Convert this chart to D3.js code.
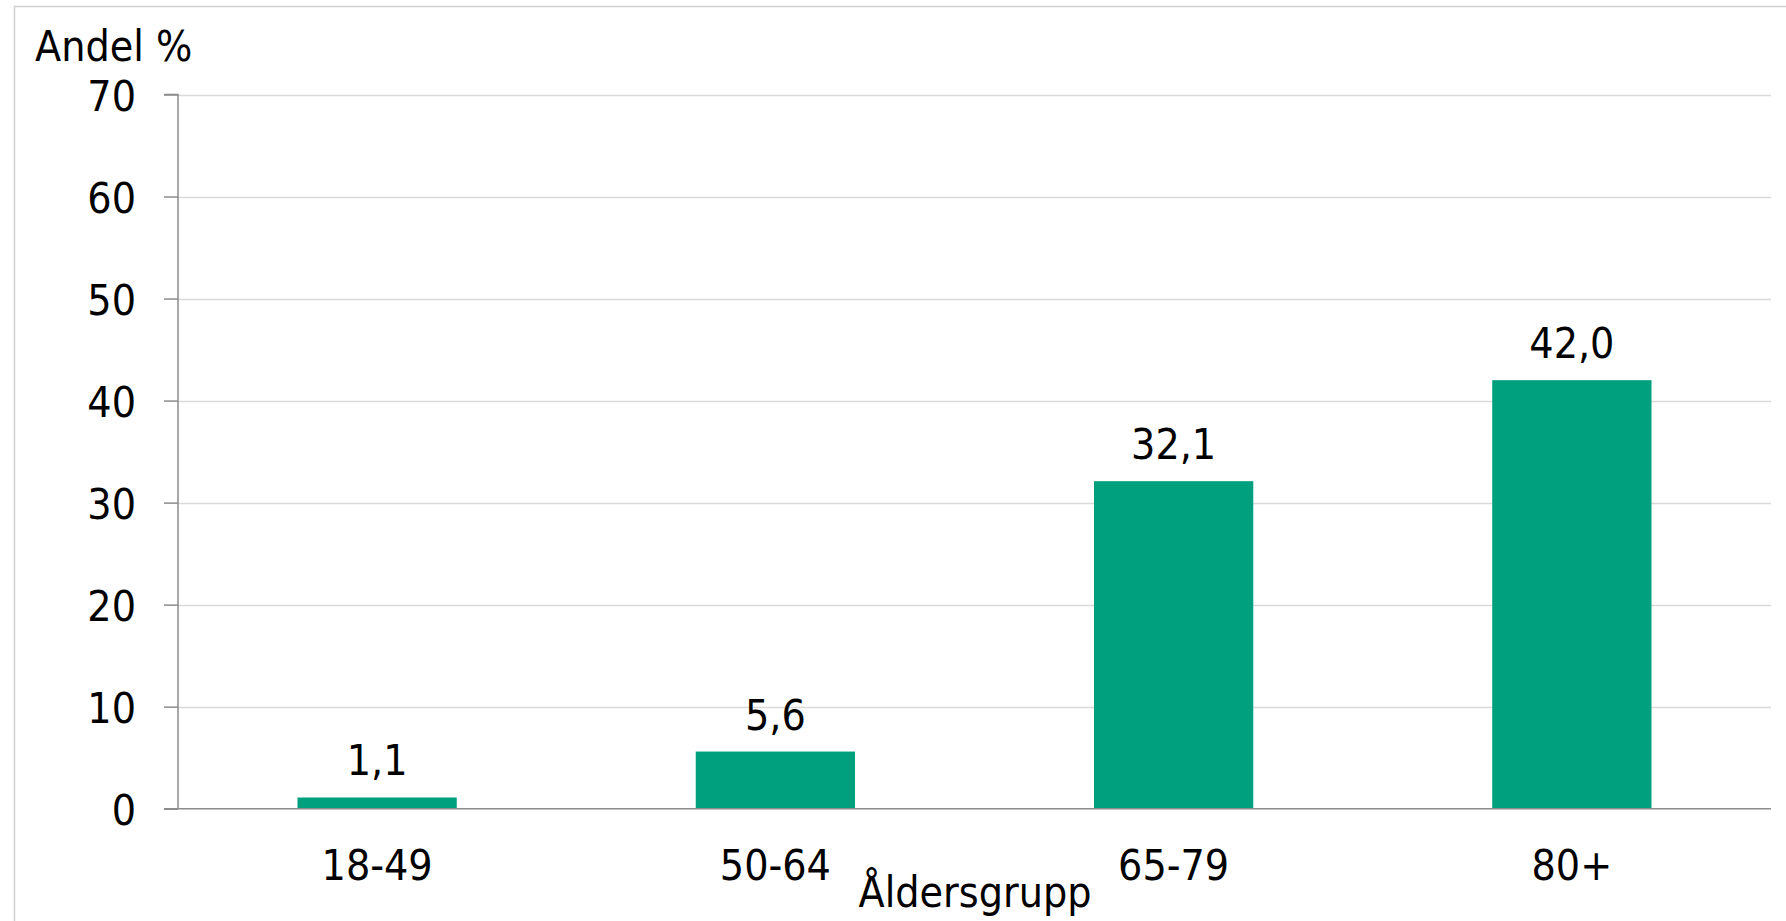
<!DOCTYPE html>
<html><head><meta charset="utf-8">
<script src="https://cdn.jsdelivr.net/npm/d3@7"></script>
<style>body{margin:0;background:#fff}svg{display:block}text{font-family:"DejaVu Sans Condensed","DejaVu Sans",sans-serif;fill:#000}</style>
</head><body>
<script>
const categories = ["18-49","50-64","65-79","80+"];
const values = [1.1, 5.6, 32.1, 42.0];
const yTicks = [0,10,20,30,40,50,60,70];
const yTitle = "Andel %";
const xTitle = "Åldersgrupp";

(function(){
const W = 1786, H = 921;
const pLeft = 178, pRight = 1771, pTop = 94.5, pBottom = 808.7;
const fs = 42.5;
const ff = '"DejaVu Sans Condensed","DejaVu Sans",sans-serif';

const svg = d3.select("body").append("svg").attr("width", W).attr("height", H);
svg.append("rect").attr("x",14.5).attr("y",6.5).attr("width",W).attr("height",H)
  .attr("fill","#fff").attr("stroke","#d0d0d0").attr("stroke-width",1.5);

const x = d3.scaleBand().domain(categories).range([pLeft, pRight]).padding(0);
const y = d3.scaleLinear().domain([0,70]).range([pBottom, pTop]);
const barW = x.bandwidth()*0.4;

// gridlines
svg.append("g").selectAll("line").data(yTicks.filter(d=>d>0)).join("line")
  .attr("x1", pLeft).attr("x2", pRight)
  .attr("y1", d=>Math.round(y(d))+0.5).attr("y2", d=>Math.round(y(d))+0.5)
  .attr("stroke","#d9d9d9").attr("stroke-width",1.5);

// bars
svg.append("g").selectAll("rect").data(values).join("rect")
  .attr("x",(d,i)=>x(categories[i])+x.bandwidth()/2-barW/2)
  .attr("width",barW)
  .attr("y",d=>y(d)).attr("height",d=>y(0)-y(d))
  .attr("fill","#00a07f");

// y axis
const ya = svg.append("g").attr("transform",`translate(${pLeft},0)`)
  .call(d3.axisLeft(y).tickValues(yTicks).tickSize(14).tickPadding(0).tickFormat(d3.format("d")));
ya.select(".domain").attr("stroke","#8c8c8c").attr("stroke-width",1.5).attr("d",`M-14,${pTop}H0V${pBottom}`);
ya.selectAll(".tick line").attr("stroke","#8c8c8c").attr("stroke-width",1.5);
ya.selectAll(".tick text").attr("x",-42).attr("dy",null).attr("y",15.5)
  .style("font-size",fs+"px").style("font-family",ff).attr("fill","#000");

// x axis
const xa = svg.append("g").attr("transform",`translate(0,${pBottom})`)
  .call(d3.axisBottom(x).tickSize(0).tickPadding(0));
xa.select(".domain").attr("stroke","#8c8c8c").attr("stroke-width",1.5).attr("d",`M${pLeft-14},0H${pRight}`);
xa.selectAll(".tick text").attr("dy",null).attr("y",71)
  .style("font-size",fs+"px").style("font-family",ff).attr("fill","#000");

// value labels
svg.append("g").selectAll("text").data(values).join("text")
  .attr("x",(d,i)=>x(categories[i])+x.bandwidth()/2)
  .attr("y",d=>y(d)-22)
  .attr("text-anchor","middle").style("font-size",fs+"px")
  .text(d=>d3.format(".1f")(d).replace(".",","));

svg.append("text").attr("x",35).attr("y",61).style("font-size",fs+"px").text(yTitle);
svg.append("text").attr("x",975).attr("y",907).attr("text-anchor","middle").style("font-size",fs+"px").text(xTitle);
})();
</script>
</body></html>
